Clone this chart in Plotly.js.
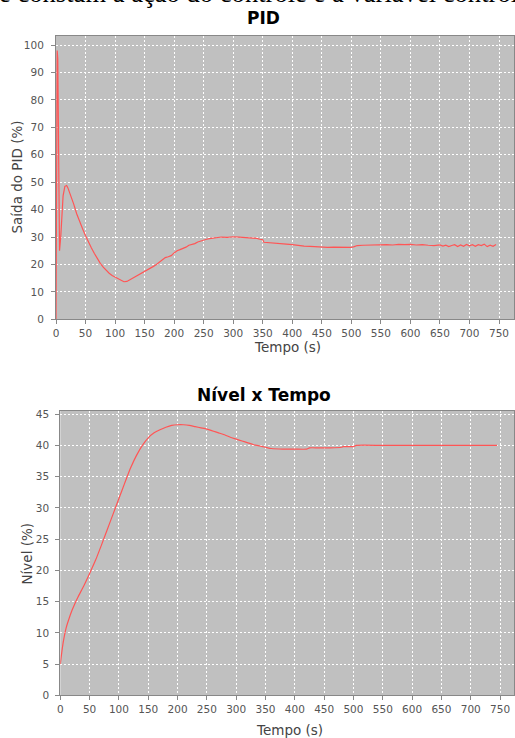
<!DOCTYPE html>
<html><head><meta charset="utf-8">
<script src="https://cdn.plot.ly/plotly-3.0.1.min.js"></script>
<style>html,body{margin:0;padding:0;background:#fff;} #chart{width:515px;height:738px;}</style>
</head><body><div id="chart"></div>
<script>
// PID output (%) vs time (s)
const pidTime = [0,1,2,3,4,5,6,8,10,12,15,18,20,25,30,35,40,45,50,55,60,65,70,75,80,85,90,95,100,105,110,115,120,125,130,135,140,145,150,155,160,165,170,175,180,185,190,195,200,205,210,215,220,225,230,235,240,245,250,255,260,265,270,280,290,300,310,320,330,340,345,350,352,360,370,380,390,400,410,420,430,440,450,460,470,480,490,500,505,510,520,530,540,550,560,570,580,590,600,610,620,630,640,650,655,660,665,670,675,680,685,690,695,700,705,710,715,720,725,730,735,740,745];
const pidOutput = [0,97,98,95,60,27,25,30,40,45,48.5,48.8,48,45.3,42,38.5,35.5,33,30.5,28,26,24,22,20.4,19,17.8,16.8,16,15.4,14.6,14,13.7,13.8,14.4,15,15.5,16,16.6,17.2,17.8,18.5,19.3,20,20.8,21.6,22.5,22.8,23.2,24.2,25,25.4,25.8,26.3,27,27.3,27.6,28.2,28.6,28.9,29.2,29.4,29.5,29.8,30,29.9,30.1,30,29.9,29.7,29.5,29.2,29,28.1,27.9,27.7,27.5,27.4,27.2,26.9,26.7,26.6,26.4,26.4,26.2,26.3,26.2,26.3,26.2,26.5,26.9,27,27.1,27,27.1,27.2,27.1,27.3,27.2,27.3,27.1,27.2,27,26.9,27.1,26.7,27,26.5,26.9,27.2,26.5,27.1,26.6,27.3,26.8,27.2,26.6,27.2,26.9,27.4,26.5,27,26.6,27.3];
// Level (%) vs time (s)
const levelTime = [0,2,5,10,15,20,25,30,40,50,60,70,80,90,100,110,120,130,140,150,160,170,180,190,200,210,220,230,240,250,260,270,280,290,300,310,320,330,340,350,360,380,400,420,425,440,460,480,482,500,505,550,600,650,700,745];
const levelValue = [5,6.5,8.5,10.8,12.3,13.6,14.7,15.7,17.5,19.5,21.6,24,26.5,29,31.5,34,36.4,38.4,40,41.2,42,42.5,42.9,43.2,43.3,43.3,43.2,43,42.8,42.6,42.3,42,41.7,41.3,41,40.7,40.4,40.1,39.9,39.7,39.5,39.4,39.4,39.4,39.6,39.6,39.6,39.7,39.8,39.8,40,40,40,40,40,40];
const xTicks = [0,50,100,150,200,250,300,350,400,450,500,550,600,650,700,750];
const pidTicks = [0,10,20,30,40,50,60,70,80,90,100];
const levelTicks = [0,5,10,15,20,25,30,35,40,45];

const W = 515, H = 738;
const px = x => x / W;
const py = y => 1 - y / H;
const lineColor = '#ff5555';
const tickFont = {family: 'DejaVu Sans', size: 10.5, color: '#555'};
const axTitleFont = {family: 'DejaVu Sans', size: 13.5, color: '#444'};
const titleFont = {family: 'DejaVu Sans', size: 17, color: '#000', weight: 'bold'};

const axisCommon = {
  ticks: 'outside', ticklen: 4, tickcolor: '#888', tickwidth: 1,
  showline: true, linecolor: '#888', linewidth: 1, mirror: true,
  showgrid: true, gridcolor: '#ffffff', gridwidth: 1, griddash: '2px,2px',
  zeroline: false, tickfont: tickFont, fixedrange: true, ticklabelstandoff: 0
};

const traces = [
  {x: pidTime, y: pidOutput, type: 'scatter', mode: 'lines', line: {color: lineColor, width: 1.2}, xaxis: 'x', yaxis: 'y', hoverinfo: 'skip'},
  {x: levelTime, y: levelValue, type: 'scatter', mode: 'lines', line: {color: lineColor, width: 1.2, shape: 'spline', smoothing: 0.6}, xaxis: 'x2', yaxis: 'y2', hoverinfo: 'skip'}
];

const layout = {
  width: W, height: H,
  margin: {l: 0, r: 0, t: 0, b: 0},
  paper_bgcolor: '#ffffff', plot_bgcolor: '#c0c0c0',
  showlegend: false,
  xaxis: Object.assign({}, axisCommon, {domain: [px(56), px(514)], range: [0, 775.4], tickvals: xTicks, anchor: 'y'}),
  yaxis: Object.assign({}, axisCommon, {domain: [py(319.3), py(36)], range: [0, 103.3], tickvals: pidTicks, anchor: 'x', ticklabelstandoff: 5}),
  xaxis2: Object.assign({}, axisCommon, {domain: [px(60.3), px(514)], range: [0, 773.8], tickvals: xTicks, anchor: 'y2'}),
  yaxis2: Object.assign({}, axisCommon, {domain: [py(695.3), py(411)], range: [0, 45.5], tickvals: levelTicks, anchor: 'x2', ticklabelstandoff: 4}),
  annotations: [
    {text: 'e constam a ação do controle e a variável controlada', xref: 'paper', yref: 'paper', x: -0.006, xanchor: 'left', y: 1, yanchor: 'bottom', yshift: -10, showarrow: false, font: {family: 'Liberation Serif', size: 26.6, color: '#000'}},
    {text: 'PID', xref: 'paper', yref: 'paper', x: px(263), y: py(17.5), xanchor: 'center', yanchor: 'middle', showarrow: false, font: titleFont},
    {text: 'Nível x Tempo', xref: 'paper', yref: 'paper', x: px(263.5), y: py(395.5), xanchor: 'center', yanchor: 'middle', showarrow: false, font: titleFont},
    {text: 'Tempo (s)', xref: 'paper', yref: 'paper', x: px(287.5), y: py(346.5), xanchor: 'center', yanchor: 'middle', showarrow: false, font: axTitleFont},
    {text: 'Tempo (s)', xref: 'paper', yref: 'paper', x: px(289), y: py(729.5), xanchor: 'center', yanchor: 'middle', showarrow: false, font: axTitleFont},
    {text: 'Saída do PID (%)', xref: 'paper', yref: 'paper', x: px(16), y: py(177.5), xanchor: 'center', yanchor: 'middle', textangle: -90, showarrow: false, font: axTitleFont},
    {text: 'Nível (%)', xref: 'paper', yref: 'paper', x: px(26.5), y: py(554), xanchor: 'center', yanchor: 'middle', textangle: -90, showarrow: false, font: axTitleFont}
  ]
};

Plotly.newPlot('chart', traces, layout, {staticPlot: true, displayModeBar: false});
</script>
</body></html>
